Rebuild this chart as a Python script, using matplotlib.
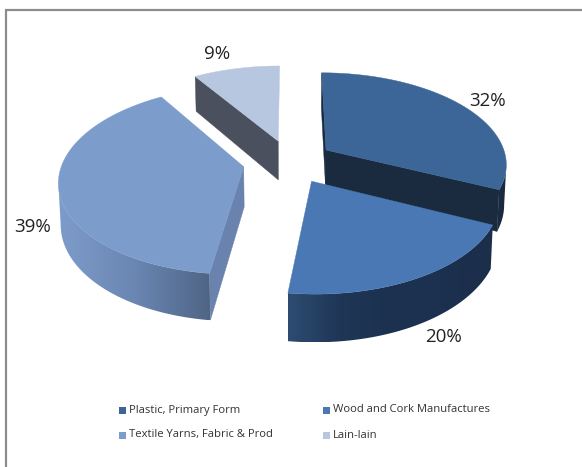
import numpy as np
import matplotlib
matplotlib.use('Agg')
import matplotlib.pyplot as plt
from matplotlib.patches import Polygon, Rectangle
from matplotlib.colors import LinearSegmentedColormap

labels = ['Plastic, Primary Form', 'Wood and Cork Manufactures',
          'Textile Yarns, Fabric & Prod', 'Lain-lain']
shares = [32, 20, 39, 9]
top_colors = ['#3D6698', '#4A78B4', '#7C9CCB', '#B8C7E0']
# rim shading runs left to right
rim_colors = [['#1A2B40', '#1A2B40'], ['#2D4C72', '#1F3656', '#1C3150', '#1C3150', '#1B2E4A'],
              ['#7E9CCB', '#6A86B2', '#4F6585'], ['#4B505E', '#4B505E']]
cut_colors = ['#1A2B40', '#1B2E4A', '#6A83AE', '#4B505E']
explode = [0.24, 0.24, 0.26, 0.24]

# perspective of the pie disc, in pixels of the 582x467 canvas
xc, yc = 290, 161.5
ax_x, ax_y = 181, 91
k = 0.14
depth = 40
bottom_scale = 0.99


def project(u, v, drop=0.0):
    s = 1.0 / (1 + k * v)
    x = ax_x * u * s
    if drop:
        x *= bottom_scale
    return xc + x, yc - ax_y * v * s + drop * s


fig = plt.figure(figsize=(5.82, 4.67), dpi=100)
ax = fig.add_axes([0, 0, 1, 1])

# chart frame
ax.add_patch(Rectangle((5.5, 9.5), 600, 480, fc='white', ec='#8C8C8C', lw=1.6, zorder=1))

edges = np.cumsum([0] + shares) * 3.6
wedges = []
for i in range(len(shares)):
    a0, a1 = np.radians(edges[i]), np.radians(edges[i + 1])
    mid = (a0 + a1) / 2
    wedges.append((a0, a1, explode[i] * np.sin(mid), explode[i] * np.cos(mid)))

layer = 2


def next_layer():
    global layer
    layer += 1
    return layer


def cut_face(ox, oy, ang, color):
    u, v = ox + np.sin(ang), oy + np.cos(ang)
    pts = [project(ox, oy), project(u, v), project(u, v, depth), project(ox, oy, depth)]
    ax.add_patch(Polygon(pts, fc=color, ec=color, lw=0.3, zorder=next_layer()))


def rim(a0, a1, ox, oy, colors):
    ang = np.linspace(a0, a1, 200)
    # front of the rim only: there x falls as the angle grows
    xs = np.array([project(ox + np.sin(t), oy + np.cos(t))[0] for t in ang])
    front = np.where(np.diff(xs) < 0)[0]
    if len(front) == 0:
        return
    ang = ang[front[0]:front[-1] + 2]
    upper = [project(ox + np.sin(t), oy + np.cos(t)) for t in ang]
    lower = [project(ox + np.sin(t), oy + np.cos(t), depth) for t in ang[::-1]]
    pts = np.array(upper + lower)
    x0, x1 = pts[:, 0].min(), pts[:, 0].max()
    y0, y1 = pts[:, 1].min(), pts[:, 1].max()
    cmap = LinearSegmentedColormap.from_list('rim', colors)
    shade = ax.imshow(np.linspace(0, 1, 256)[None, :], extent=(x0, x1, y1, y0),
                      cmap=cmap, aspect='auto', interpolation='bilinear', zorder=next_layer())
    outline = Polygon(pts, fc='none', ec='none', transform=ax.transData)
    ax.add_patch(outline)
    shade.set_clip_path(outline)


def top_face(a0, a1, ox, oy, color):
    ang = np.linspace(a0, a1, 120)
    pts = [project(ox, oy)] + [project(ox + np.sin(t), oy + np.cos(t)) for t in ang]
    ax.add_patch(Polygon(pts, fc=color, ec=color, lw=0.3, zorder=next_layer()))


# back to front: Lain-lain, Plastic, Textile, Wood
for i in [3, 0, 2, 1]:
    a0, a1, ox, oy = wedges[i]
    if i == 0:
        cut_face(ox, oy, a0, cut_colors[i])
        cut_face(ox, oy, a1, cut_colors[i])
    elif i == 3:
        cut_face(ox, oy, a0, cut_colors[i])
    rim(a0, a1, ox, oy, rim_colors[i])
    if i == 2:
        cut_face(ox, oy, a0, cut_colors[i])
    top_face(a0, a1, ox, oy, top_colors[i])

fam = ['Open Sans', 'DejaVu Sans']
pct_pos = [(488, 101), (444, 337), (33, 227), (217, 54)]
for s, (px, py) in zip(shares, pct_pos):
    ax.text(px, py, '%d%%' % s, fontsize=13.5, family=fam, color='#222222',
            ha='center', va='center', zorder=50)

leg_pos = [(119, 410), (323, 410), (119, 435), (323, 435)]
for i, (px, py) in enumerate(leg_pos):
    ax.add_patch(Rectangle((px, py - 3.5), 7, 7, fc=top_colors[i], ec='none', zorder=50))
    ax.text(px + 10, py, labels[i], fontsize=8.1, family=fam, color='#333333',
            ha='left', va='center', zorder=50)

ax.set_xlim(0, 582)
ax.set_ylim(467, 0)
ax.axis('off')

fig.savefig('out.png', dpi=100)
